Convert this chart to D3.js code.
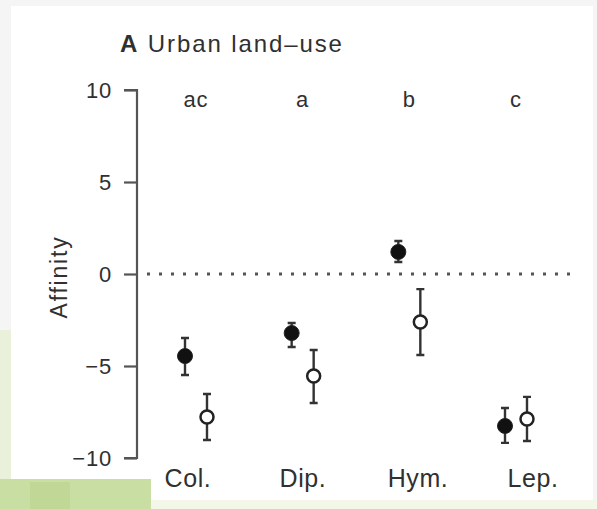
<!DOCTYPE html>
<html>
<head>
<meta charset="utf-8">
<script src="https://cdn.jsdelivr.net/npm/d3@7"></script>
<style>
  html, body { margin: 0; padding: 0; background: #f6f6f6; }
  svg { display: block; }
  text { font-family: "Liberation Sans", Arial, Helvetica, sans-serif; fill: #303030; }
</style>
</head>
<body>
<svg id="chart" width="597" height="509"></svg>
<script>
// ---- data ----
const categories = ["Col.", "Dip.", "Hym.", "Lep."];
const groupLetters = ["ac", "a", "b", "c"];
// filled (black) series
const filledMean  = [-4.46, -3.21, 1.20, -8.26];
const filledUpper = [-3.48, -2.66, 1.79, -7.28];
const filledLower = [-5.49, -3.97, 0.65, -9.18];
// open (white) series
const openMean  = [-7.77, -5.54, -2.61, -7.88];
const openUpper = [-6.52, -4.13, -0.82, -6.68];
const openLower = [-9.02, -7.01, -4.40, -9.08];
const yTicks = [10, 5, 0, -5, -10];
const yDomain = [-10, 10];
const title = "Urban land\u2013use";
const panelLetter = "A";
const yLabel = "Affinity";

// ---- drawing ----
const svg = d3.select("#chart");

// backdrop (page photo look)
svg.append("rect").attr("x", 0).attr("y", 0).attr("width", 597).attr("height", 509).attr("fill", "#f5f5f5");
svg.append("rect").attr("x", 0).attr("y", 330).attr("width", 12).attr("height", 179).attr("fill", "#e9f1da");
svg.append("rect").attr("x", 11).attr("y", 6).attr("width", 582).attr("height", 495).attr("fill", "#ffffff");
svg.append("rect").attr("x", 0).attr("y", 500).attr("width", 597).attr("height", 9).attr("fill", "#f3f7e8");
svg.append("rect").attr("x", 0).attr("y", 479).attr("width", 151).attr("height", 30).attr("fill", "#c9dea3");
svg.append("rect").attr("x", 30).attr("y", 482).attr("width", 40).attr("height", 27).attr("fill", "#bcd48e").attr("opacity", 0.7);

const y = d3.scaleLinear().domain(yDomain).range([458, 90]);
const xc = d3.scalePoint().domain(categories).range([196, 516]);
const xl = d3.scalePoint().domain(categories).range([188, 533]);
const offset = 11;

// y axis
const yAxis = d3.axisLeft(y).tickValues(yTicks).tickSize(13).tickPadding(12)
  .tickFormat(d => d < 0 ? "\u2212" + Math.abs(d) : String(d));
const ga = svg.append("g").attr("transform", "translate(137,0)").call(yAxis);
ga.select(".domain").attr("stroke", "#555").attr("stroke-width", 2.2).attr("d", `M-13,${y(10)}H0V${y(-10)}H-13`);
ga.selectAll(".tick line").attr("stroke", "#555").attr("stroke-width", 2.2);
ga.selectAll(".tick text").attr("font-size", 22).attr("fill", "#303030")
  .attr("letter-spacing", 0.8)
  .style("font-family", '"Liberation Sans", Arial, sans-serif');

// zero reference line
svg.append("line")
  .attr("x1", 147).attr("x2", 572)
  .attr("y1", y(0)).attr("y2", y(0))
  .attr("stroke", "#555").attr("stroke-width", 3)
  .attr("stroke-dasharray", "3,9");

// y label
svg.append("text")
  .attr("transform", `translate(67,277) rotate(-90)`)
  .attr("text-anchor", "middle")
  .attr("font-size", 23)
  .attr("letter-spacing", 1.8)
  .text(yLabel);

// title
const tt = svg.append("text").attr("x", 120).attr("y", 52).attr("font-size", 24).attr("letter-spacing", 1.9);
tt.append("tspan").attr("font-weight", "bold").text(panelLetter);
tt.append("tspan").text(" " + title);

// group letters
svg.selectAll(".grp").data(categories).enter().append("text")
  .attr("class", "grp")
  .attr("x", d => xc(d))
  .attr("y", 107)
  .attr("text-anchor", "middle")
  .attr("font-size", 22)
  .attr("letter-spacing", 1)
  .text((d, i) => groupLetters[i]);

// category labels
svg.selectAll(".cat").data(categories).enter().append("text")
  .attr("class", "cat")
  .attr("x", d => xl(d))
  .attr("y", 487)
  .attr("text-anchor", "middle")
  .attr("font-size", 25)
  .attr("letter-spacing", 0.6)
  .text(d => d);

function drawSeries(mean, lower, upper, dx, filled) {
  const g = svg.append("g");
  const data = categories.map((c, i) => ({ c, m: mean[i], lo: lower[i], hi: upper[i] }));
  const cap = 4;
  g.selectAll(".eb").data(data).enter().append("path")
    .attr("d", d => {
      const x = xc(d.c) + dx;
      return `M${x},${y(d.hi)}V${y(d.lo)}M${x - cap},${y(d.hi)}H${x + cap}M${x - cap},${y(d.lo)}H${x + cap}`;
    })
    .attr("stroke", "#333").attr("stroke-width", 2.4).attr("fill", "none");
  g.selectAll(".pt").data(data).enter().append("circle")
    .attr("cx", d => xc(d.c) + dx)
    .attr("cy", d => y(d.m))
    .attr("r", filled ? 7.5 : 6.5)
    .attr("fill", filled ? "#111" : "#fff")
    .attr("stroke", "#222")
    .attr("stroke-width", filled ? 1 : 2.5);
}

drawSeries(filledMean, filledLower, filledUpper, -offset, true);
drawSeries(openMean, openLower, openUpper, offset, false);
</script>
</body>
</html>
